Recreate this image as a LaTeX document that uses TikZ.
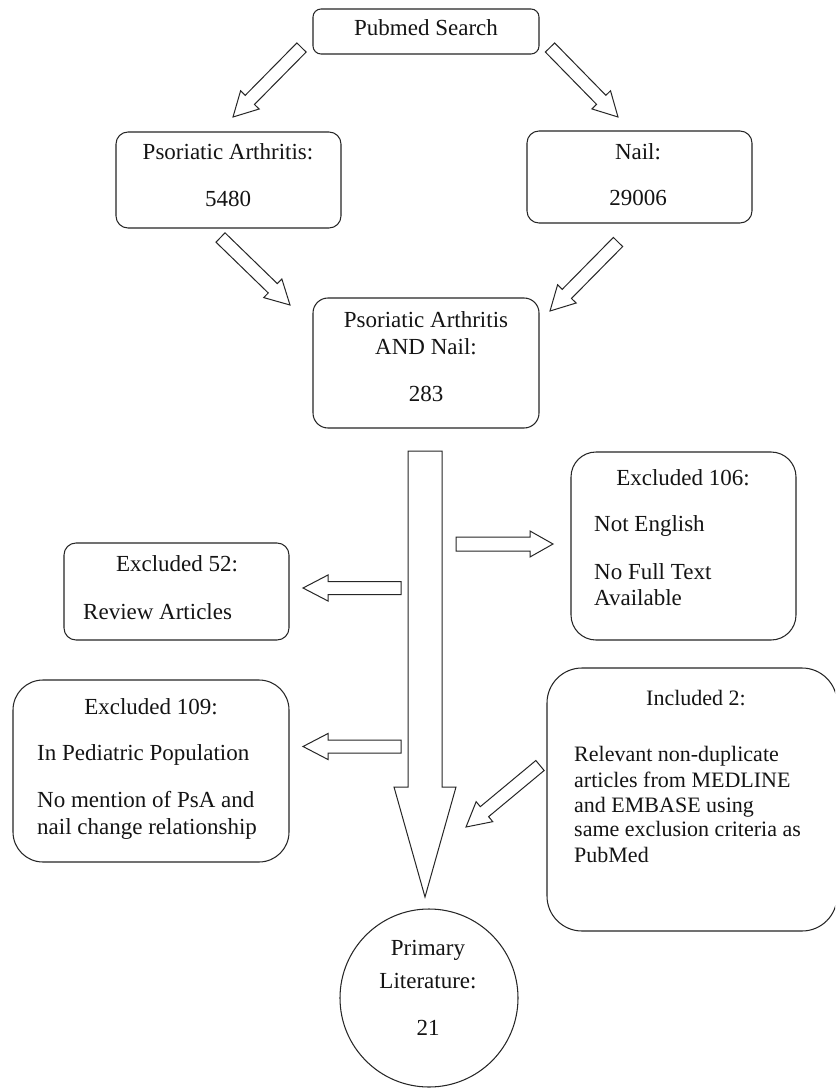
\documentclass[tikz,border=0pt]{standalone}
\usepackage{fontspec}
\setmainfont{Liberation Serif}
\usetikzlibrary{calc}
\tikzset{
  box/.style={draw=black!85, line width=1.05pt, inner sep=0pt, rectangle},
  blk/.style={draw=black!85, line width=1pt, line join=miter, fill=white},
  txt/.style={inner sep=0pt, anchor=mid, text=black!92, font=\fontsize{23}{27}\selectfont},
  ltxt/.style={txt, anchor=mid west},
  stxt/.style={inner sep=0pt, anchor=mid, text=black!92, font=\fontsize{22}{26}\selectfont},
  sltxt/.style={stxt, anchor=mid west}
}
\newcommand{\blockarrow}[5]{%
  \path ($(#2)!#5!(#1)$) coordinate (ba-base);
  \draw[blk] ($(#1)!#3!90:(#2)$) -- ($(ba-base)!#3!90:(#2)$) -- ($(ba-base)!#4!90:(#2)$) -- (#2)
    -- ($(ba-base)!#4!-90:(#2)$) -- ($(ba-base)!#3!-90:(#2)$) -- ($(#1)!#3!-90:(#2)$) -- cycle;
}
\begin{document}
\begin{tikzpicture}[x=1pt,y=-1pt]
\useasboundingbox (0,0) rectangle (835,1091);
\fill[white] (0,0) rectangle (835,1091);
\clip (0,0) rectangle (835,1091);

% boxes
\node[box, rounded corners=8pt, minimum width=226pt, minimum height=45pt] (pub) at (426,31.5) {};
\node[box, rounded corners=12pt, minimum width=225pt, minimum height=96pt] (psa) at (228.5,180) {};
\node[box, rounded corners=12pt, minimum width=225pt, minimum height=92pt] (nail) at (639.5,177) {};
\node[box, rounded corners=15pt, minimum width=226pt, minimum height=130pt] (ctr) at (426,363) {};
\node[box, rounded corners=25pt, minimum width=225pt, minimum height=188pt] (e106) at (683.5,546) {};
\node[box, rounded corners=12pt, minimum width=225pt, minimum height=97pt] (e52) at (176.5,591.5) {};
\node[box, rounded corners=30pt, minimum width=276pt, minimum height=182pt] (e109) at (151,771) {};
\node[box, rounded corners=35pt, minimum width=290pt, minimum height=263pt] (inc) at (692,799.5) {};
\node[box, circle, minimum size=178pt] (lit) at (429,998) {};

% texts
\node[txt] (tpub) at (426,33) {Pubmed Search};
\node[txt] (tpsa1) at (228,157) {Psoriatic Arthritis:};
\node[txt] (tpsa2) at (228,204) {5480};
\node[txt] (tnail1) at (638,157) {Nail:};
\node[txt] (tnail2) at (638,203) {29006};
\node[txt] (tctr1) at (426,325) {Psoriatic Arthritis};
\node[txt] (tctr2) at (426,352) {AND Nail:};
\node[txt] (tctr3) at (426,399) {283};
\node[txt] (te106a) at (683,483) {Excluded 106:};
\node[ltxt] (te106b) at (594,529) {Not English};
\node[ltxt] (te106c) at (594,577) {No Full Text};
\node[ltxt] (te106d) at (594,603) {Available};
\node[txt] (te52a) at (177,569) {Excluded 52:};
\node[ltxt] (te52b) at (83,617) {Review Articles};
\node[txt] (te109a) at (151,712) {Excluded 109:};
\node[ltxt] (te109b) at (37,758) {In Pediatric Population};
\node[ltxt] (te109c) at (37,805) {No mention of PsA and};
\node[ltxt] (te109d) at (37,832) {nail change relationship};
\node[stxt] (tinc1) at (696,703) {Included 2:};
\node[sltxt] (tinc2) at (574,759) {Relevant non-duplicate};
\node[sltxt] (tinc3) at (574,785) {articles from MEDLINE};
\node[sltxt] (tinc4) at (574,810) {and EMBASE using};
\node[sltxt] (tinc5) at (574,834) {same exclusion criteria as};
\node[sltxt] (tinc6) at (574,860) {PubMed};
\node[txt] (tlit1) at (428,953) {Primary};
\node[txt] (tlit2) at (428,986) {Literature:};
\node[txt] (tlit3) at (428,1033) {21};

% arrow end points
\coordinate (a1t) at (301.5,47.5); \coordinate (a1h) at (233,117);
\coordinate (a2t) at (550,47.5);   \coordinate (a2h) at (618,117);
\coordinate (a3t) at (220.5,237.5); \coordinate (a3h) at (290,305);
\coordinate (a4t) at (618,242);    \coordinate (a4h) at (550,311);
\coordinate (a5t) at (456,544);    \coordinate (a5h) at (553,544);
\coordinate (a6t) at (401,588);    \coordinate (a6h) at (303,588);
\coordinate (a7t) at (401,746.5);  \coordinate (a7h) at (303,746.5);
\coordinate (a8t) at (540,765.5);  \coordinate (a8h) at (466,827);
\coordinate (bt) at (425,451);     \coordinate (bh) at (425,897);

\blockarrow{a1t}{a1h}{6.5pt}{13pt}{24pt}
\blockarrow{a2t}{a2h}{6.5pt}{13pt}{24pt}
\blockarrow{a3t}{a3h}{6.5pt}{13pt}{24pt}
\blockarrow{a4t}{a4h}{6.5pt}{13pt}{24pt}
\blockarrow{a5t}{a5h}{7pt}{13pt}{23pt}
\blockarrow{a6t}{a6h}{6.5pt}{13pt}{25pt}
\blockarrow{a7t}{a7h}{6.5pt}{13pt}{25pt}
\blockarrow{a8t}{a8h}{6.5pt}{13pt}{24pt}
\blockarrow{bt}{bh}{17pt}{31pt}{110pt}
\end{tikzpicture}
\end{document}
